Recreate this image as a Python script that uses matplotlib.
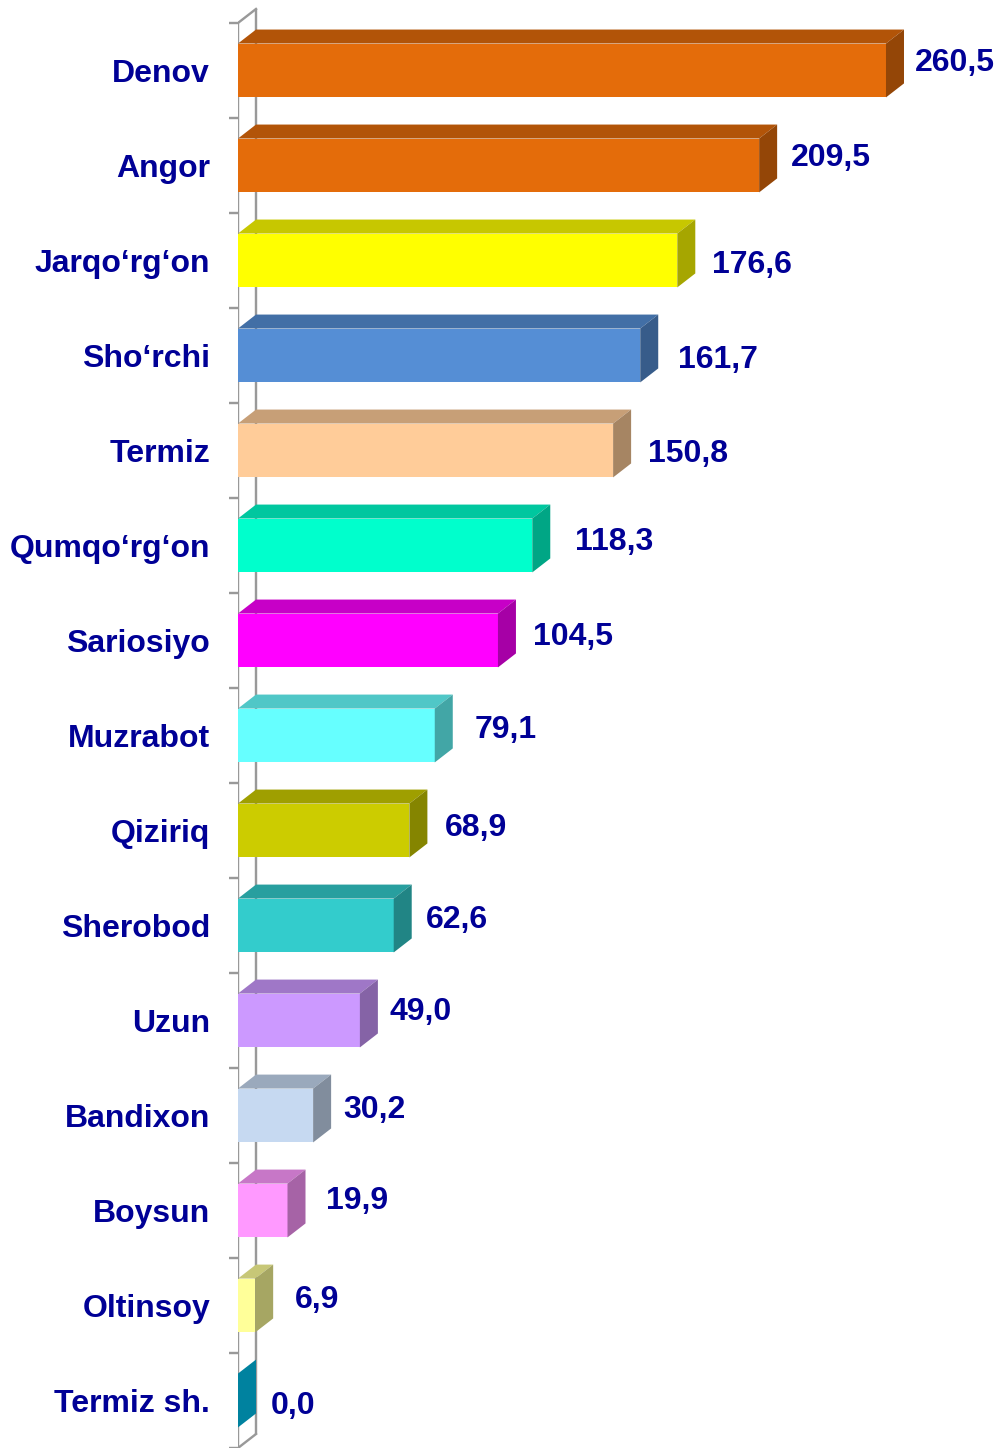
import matplotlib
matplotlib.use("Agg")
import matplotlib.pyplot as plt
from matplotlib.patches import Polygon
from matplotlib.colors import to_rgb

# District values (top to bottom)
districts = ["Denov", "Angor", "Jarqo‘rg‘on", "Sho‘rchi", "Termiz", "Qumqo‘rg‘on",
             "Sariosiyo", "Muzrabot", "Qiziriq", "Sherobod", "Uzun", "Bandixon",
             "Boysun", "Oltinsoy", "Termiz sh."]
values = [260.5, 209.5, 176.6, 161.7, 150.8, 118.3, 104.5, 79.1, 68.9, 62.6,
          49.0, 30.2, 19.9, 6.9, 0.0]
bar_colors = ["#E46C0A", "#E46C0A", "#FFFF00", "#558ED5", "#FFCC99", "#00FFCC",
              "#FF00FF", "#66FFFF", "#CCCC00", "#33CCCC", "#CC99FF", "#C6D9F1",
              "#FF99FF", "#FFFF99", "#00C8F5"]

# Per-label nudges in pixels (dx from bar's back edge, dy upward)
label_nudge = [(11, 11), (14, 11), (17, -1), (20, -1), (17, 0), (25, 7), (17, 7),
               (22, 9), (17, 6), (14, 9), (12, 12), (12, 9), (20, 13), (22, 9), (15, -2)]

TEXT = "#000096"
WALL = "#999999"
FONT = "Liberation Sans"
FS = 23

W, H, DPI = 1002, 1448, 100
PX_PER_UNIT = 2.4875     # horizontal pixels per value unit
ROW_PX = 95.2            # vertical pixels per category
ROW0_PX = 70.6           # centre of the first category from the top
X0_PX = 238              # zero line
DEPTH_X, DEPTH_Y = 18, 14  # 3-D depth offset in pixels
BAR_H = 0.567

fig = plt.figure(figsize=(W / DPI, H / DPI), dpi=DPI)
ax = fig.add_axes([X0_PX / W, 0, (W - X0_PX) / W, 1])
ax.set_xlim(0, (W - X0_PX) / PX_PER_UNIT)
ax.set_ylim((H - ROW0_PX) / ROW_PX, -ROW0_PX / ROW_PX)

dx = DEPTH_X / PX_PER_UNIT
dy = DEPTH_Y / ROW_PX
pt = 72 / DPI


def shade(c, f):
    r, g, b = to_rgb(c)
    return (r * f, g * f, b * f)


n = len(values)
lw = 2.4 * pt

# back wall and front edge of the category axis
top_b, bot_b = -0.5, n - 0.5
ax.plot([dx, dx], [top_b - dy, bot_b - dy], color=WALL, lw=lw, zorder=1,
        solid_capstyle="butt")
ax.plot([0, dx], [top_b, top_b - dy], color=WALL, lw=lw, zorder=1)
ax.plot([0, dx], [bot_b, bot_b - dy], color=WALL, lw=lw, zorder=1)
ax.plot([0, 0], [top_b, bot_b], color=WALL, lw=lw, zorder=1,
        solid_capstyle="butt")

ys = list(range(n))
ax.barh(ys, values, height=BAR_H, left=0, color=bar_colors, linewidth=0, zorder=3)

for y, v, c, (nx, ny) in zip(ys, values, bar_colors, label_nudge):
    t = y - BAR_H / 2
    b = y + BAR_H / 2
    top = Polygon([(0, t), (v, t), (v + dx, t - dy), (dx, t - dy)],
                  closed=True, facecolor=shade(c, 0.78), edgecolor="none", zorder=3)
    side = Polygon([(v, t), (v + dx, t - dy), (v + dx, b - dy), (v, b)],
                   closed=True, facecolor=shade(c, 0.65), edgecolor="none", zorder=3)
    ax.add_patch(top)
    ax.add_patch(side)
    ax.annotate(f"{v:.1f}".replace(".", ","), xy=(v, y),
                xytext=((DEPTH_X + nx) * pt, ny * pt), textcoords="offset points",
                ha="left", va="center_baseline", fontsize=FS, fontweight="bold",
                color=TEXT, family=FONT, zorder=5)

# category labels and boundary ticks
ax.set_yticks(ys, districts)
ax.set_yticks([i - 0.5 for i in range(n + 1)], minor=True)
ax.tick_params(axis="y", which="major", length=0, pad=28 * pt)
ax.tick_params(axis="y", which="minor", length=9 * pt, width=lw, color=WALL)
for lab in ax.get_yticklabels():
    lab.set_fontsize(FS)
    lab.set_fontweight("bold")
    lab.set_color(TEXT)
    lab.set_family(FONT)
ax.set_xticks([])
for s in ax.spines.values():
    s.set_visible(False)
ax.patch.set_alpha(0)

fig.savefig("out.png", dpi=DPI, facecolor="white")
